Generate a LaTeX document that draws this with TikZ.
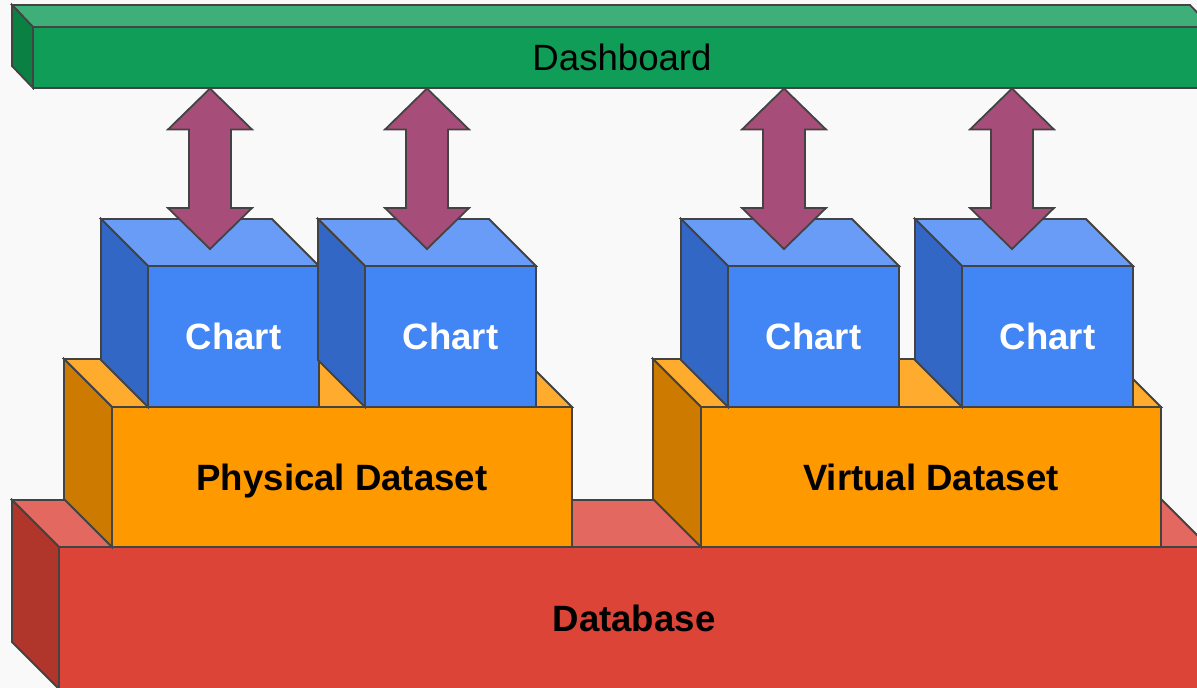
\documentclass[tikz,border=0pt]{standalone}
\usepackage{fontspec}
\setmainfont{Liberation Sans}
\usetikzlibrary{calc}
\definecolor{bgc}{HTML}{F9F9F9}
\definecolor{edgec}{HTML}{434343}
\definecolor{gfront}{HTML}{0F9D58}
\definecolor{gtop}{HTML}{3FAF7A}
\definecolor{gleft}{HTML}{0B8043}
\definecolor{bfront}{HTML}{4285F4}
\definecolor{btop}{HTML}{699CF6}
\definecolor{bleft}{HTML}{3367C6}
\definecolor{ofront}{HTML}{FF9900}
\definecolor{otop}{HTML}{FFAB2E}
\definecolor{oleft}{HTML}{CC7A00}
\definecolor{rfront}{HTML}{DB4437}
\definecolor{rtop}{HTML}{E26860}
\definecolor{rleft}{HTML}{B0352B}
\definecolor{arrc}{HTML}{A64D79}
\tikzset{
  face/.style={draw=edgec, line width=1.8pt},
  frontface/.style={face, rectangle, inner sep=0pt, outer sep=0pt, anchor=north west,
    text height=26.2pt, text depth=0pt, font=\fontsize{36.6}{44}\selectfont},
  boldlabel/.style={font=\fontsize{36.6}{44}\selectfont\bfseries},
  cubebox/.style={frontface, fill=bfront, text=white, boldlabel, minimum width=171pt, minimum height=141pt},
  datasetbox/.style={frontface, fill=ofront, text=black, boldlabel, minimum width=460pt, minimum height=140pt},
  bigarrow/.style={face, fill=arrc},
}
\newcommand\sidefaces[5]{%
  \draw[face, fill=#4] (#1.north west) -- ++(-#2,-#3) -- ($(#1.north east)+(-#2,-#3)$) -- (#1.north east) -- cycle;
  \draw[face, fill=#5] (#1.north west) -- ++(-#2,-#3) -- ($(#1.south west)+(-#2,-#3)$) -- (#1.south west) -- cycle;
}
\newcommand\dblarrow[2]{%
  \draw[bigarrow] (#1) -- ++(42,41) -- ++(-21,0) -- ($(#2)+(21,-41)$) -- ++(21,0) -- (#2)
    -- ++(-42,-41) -- ++(21,0) -- ($(#1)+(-21,41)$) -- ++(-21,0) -- cycle;
}
\begin{document}
\begin{tikzpicture}[x=1pt, y=-1pt]
\useasboundingbox (0,0) rectangle (1197,688);
\fill[bgc] (0,0) rectangle (1197,688);
\clip (0,0) rectangle (1197,688);

% Database
\node[frontface, fill=rfront, boldlabel, minimum width=1150pt, minimum height=142pt] (db) at (59,547) {Database};
\sidefaces{db}{47}{47}{rtop}{rleft}

% Datasets
\node[datasetbox] (phys) at (112,407) {Physical Dataset};
\sidefaces{phys}{48}{48}{otop}{oleft}
\node[datasetbox] (virt) at (701,407) {Virtual Dataset};
\sidefaces{virt}{48}{48}{otop}{oleft}

% Charts
\node[cubebox] (c1) at (148,266) {Chart};
\sidefaces{c1}{47}{47}{btop}{bleft}
\node[cubebox] (c2) at (365,266) {Chart};
\sidefaces{c2}{47}{47}{btop}{bleft}
\node[cubebox] (c3) at (728,266) {Chart};
\sidefaces{c3}{47}{47}{btop}{bleft}
\node[cubebox] (c4) at (962,266) {Chart};
\sidefaces{c4}{47}{47}{btop}{bleft}

% Dashboard
\node[frontface, fill=gfront, minimum width=1178pt, minimum height=61pt] (dash) at (33,27) {Dashboard};
\sidefaces{dash}{21}{22}{gtop}{gleft}

% Arrows
\coordinate (t1) at ($(dash.south -| c1.north)+(-23.5,0.5)$);
\coordinate (b1) at ($(c1.north)+(-23.5,-17)$);
\coordinate (t2) at ($(dash.south -| c2.north)+(-23.5,0.5)$);
\coordinate (b2) at ($(c2.north)+(-23.5,-17)$);
\coordinate (t3) at ($(dash.south -| c3.north)+(-29.5,0.5)$);
\coordinate (b3) at ($(c3.north)+(-29.5,-17)$);
\coordinate (t4) at ($(dash.south -| c4.north)+(-35.5,0.5)$);
\coordinate (b4) at ($(c4.north)+(-35.5,-17)$);
\dblarrow{t1}{b1}
\dblarrow{t2}{b2}
\dblarrow{t3}{b3}
\dblarrow{t4}{b4}
\end{tikzpicture}
\end{document}
